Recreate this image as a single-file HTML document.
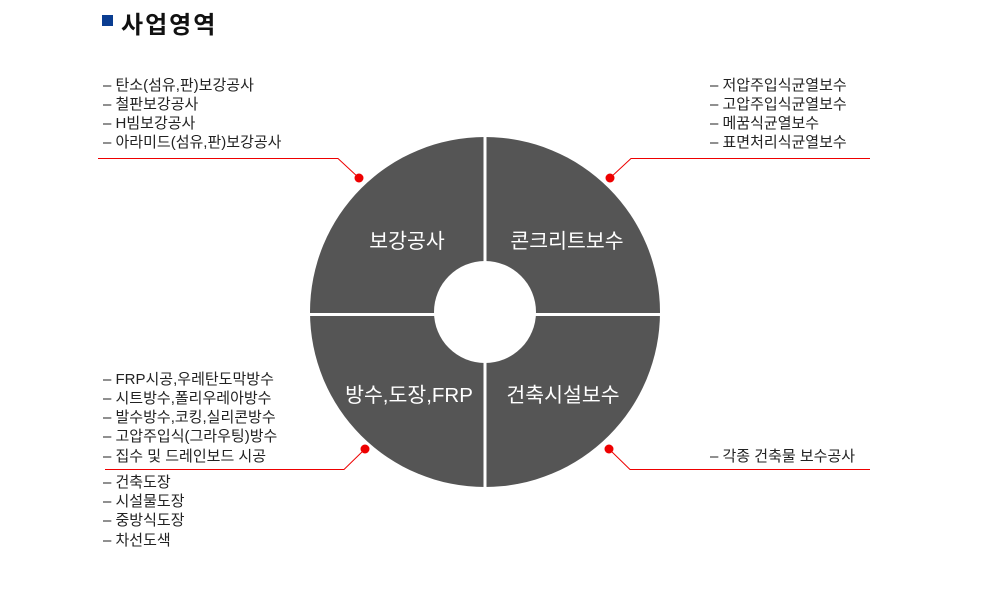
<!DOCTYPE html>
<html><head><meta charset="utf-8"><style>
body{margin:0;background:#fff;width:988px;height:600px;overflow:hidden;font-family:"Liberation Sans","Noto Sans CJK KR",sans-serif}
</style></head><body>
<svg width="988" height="600" xmlns="http://www.w3.org/2000/svg" style="position:absolute;left:0;top:0">
<rect x="102" y="15" width="11" height="11" fill="#0a3d91"/>
<text x="121" y="33" font-size="24" font-weight="bold" fill="#111" letter-spacing="2" font-family="Liberation Sans, Noto Sans CJK KR, sans-serif">사업영역</text>
<circle cx="485" cy="312" r="175" fill="#555"/>
<rect x="483.5" y="130" width="3" height="370" fill="#fff"/>
<rect x="300" y="313" width="370" height="3" fill="#fff"/>
<circle cx="485" cy="312" r="51" fill="#fff"/>
<g font-size="20.5" fill="#fff" text-anchor="middle" font-family="Liberation Sans, Noto Sans CJK KR, sans-serif">
<text x="407" y="248">보강공사</text>
<text x="567" y="248">콘크리트보수</text>
<text x="409" y="402">방수,도장,FRP</text>
<text x="563" y="402">건축시설보수</text>
</g>
<g stroke="#e00" stroke-width="1" fill="none">
<polyline points="98,158.5 338,158.5 359,178"/>
<polyline points="610,178 631,158.5 870,158.5"/>
<polyline points="365,449 344,469.5 105,469.5"/>
<polyline points="609,449 630,469.5 870,469.5"/>
</g>
<g fill="#e00">
<circle cx="359" cy="178" r="4.5"/><circle cx="610" cy="178" r="4.5"/>
<circle cx="365" cy="449" r="4.5"/><circle cx="609" cy="449" r="4.5"/>
</g>
<g font-size="15" fill="#222" font-family="Liberation Sans, Noto Sans CJK KR, sans-serif">
<text x="103" y="90">– 탄소(섬유,판)보강공사</text>
<text x="103" y="109">– 철판보강공사</text>
<text x="103" y="128">– H빔보강공사</text>
<text x="103" y="147">– 아라미드(섬유,판)보강공사</text>
<text x="710" y="90">– 저압주입식균열보수</text>
<text x="710" y="109">– 고압주입식균열보수</text>
<text x="710" y="128">– 메꿈식균열보수</text>
<text x="710" y="147">– 표면처리식균열보수</text>
<text x="103" y="384">– FRP시공,우레탄도막방수</text>
<text x="103" y="403">– 시트방수,폴리우레아방수</text>
<text x="103" y="422">– 발수방수,코킹,실리콘방수</text>
<text x="103" y="441">– 고압주입식(그라우팅)방수</text>
<text x="103" y="461">– 집수 및 드레인보드 시공</text>
<text x="103" y="487">– 건축도장</text>
<text x="103" y="506">– 시설물도장</text>
<text x="103" y="525">– 중방식도장</text>
<text x="103" y="545">– 차선도색</text>
<text x="710" y="461">– 각종 건축물 보수공사</text>
</g>
</svg>
</body></html>
